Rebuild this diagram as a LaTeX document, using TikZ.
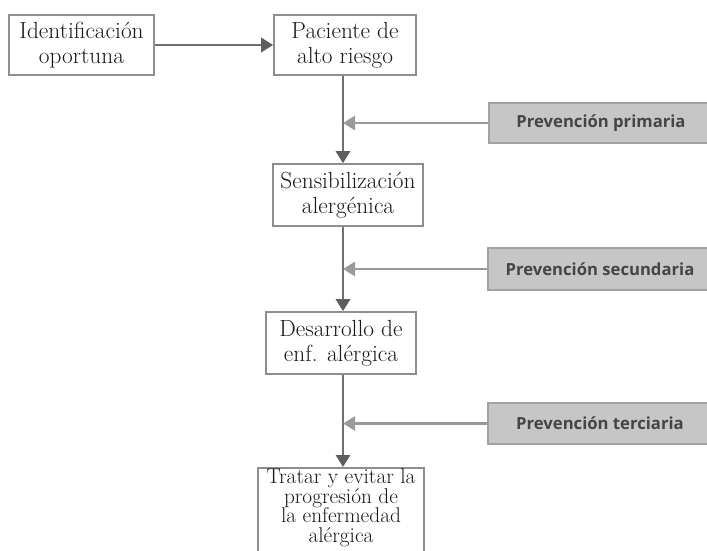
\documentclass[tikz,border=0pt]{standalone}
\usepackage{fontspec}
\newfontfamily\graysans{Open Sans}
\usetikzlibrary{arrows.meta}
\definecolor{mline}{HTML}{707070}
\definecolor{mhead}{HTML}{5E5E5E}
\definecolor{hline}{HTML}{9A9A9A}
\definecolor{gfill}{HTML}{C6C6C6}
\definecolor{gdraw}{HTML}{A2A2A2}
\definecolor{gtext}{HTML}{454545}
\definecolor{bdraw}{HTML}{8E8E8E}
\tikzset{
  mainbox/.style={draw=bdraw, line width=1.2pt, fill=white, align=center, inner sep=2pt,
    font=\fontsize{17.5}{18.8}\selectfont, text=black!90},
  grbox/.style={draw=gdraw, line width=0.9pt, fill=gfill, align=center,
    font=\graysans\bfseries\fontsize{12.5}{14}\selectfont, text=gtext},
  mainarrow/.style={draw=mline, line width=2.2pt, -{Triangle[length=9pt,width=10.5pt,color=mhead]}},
  sidearrow/.style={draw=hline, line width=2.2pt, -{Triangle[length=9pt,width=10.5pt,color=hline]}},
}
\begin{document}
\begin{tikzpicture}[x=0.75pt,y=-0.75pt]
\useasboundingbox (0,0) rectangle (707,550);
\coordinate (v) at (343,0);
\node[mainbox, minimum width=145*0.75pt, minimum height=60*0.75pt] (b1) at (81.5,45) {Identificación\\oportuna};
\node[mainbox, minimum width=142*0.75pt, minimum height=60*0.75pt] (b2) at (345,45) {Paciente de\\alto riesgo};
\node[mainbox, minimum width=150*0.75pt, minimum height=62*0.75pt] (b3) at (348,195) {Sensibilización\\alergénica};
\node[mainbox, minimum width=150*0.75pt, minimum height=62*0.75pt] (b4) at (341,343) {Desarrollo de\\enf. alérgica};
\node[mainbox, minimum width=166*0.75pt, minimum height=106*0.75pt, anchor=north, inner sep=1pt,
  font=\fontsize{16}{14.6}\selectfont] (b5) at (341,467) {Tratar y evitar la\\progresión de\\la enfermedad\\alérgica\\[28pt]};
\node[grbox, minimum width=224*0.75pt, minimum height=40*0.75pt] (p1) at (601,123) {Prevención primaria};
\node[grbox, minimum width=224*0.75pt, minimum height=42*0.75pt] (p2) at (600,269) {Prevención secundaria};
\node[grbox, minimum width=224*0.75pt, minimum height=41*0.75pt] (p3) at (600,423.5) {Prevención terciaria};
\draw[mainarrow] (b1.east) -- (b2.west);
\draw[mainarrow] (b2.south -| v) -- (b3.north -| v);
\draw[mainarrow] (b3.south -| v) -- (b4.north -| v);
\draw[mainarrow] (b4.south -| v) -- (b5.north -| v);
\draw[sidearrow] (p1.west) -- (p1.west -| v);
\draw[sidearrow] (p2.west) -- (p2.west -| v);
\draw[sidearrow] (p3.west) -- (p3.west -| v);
\end{tikzpicture}
\end{document}
